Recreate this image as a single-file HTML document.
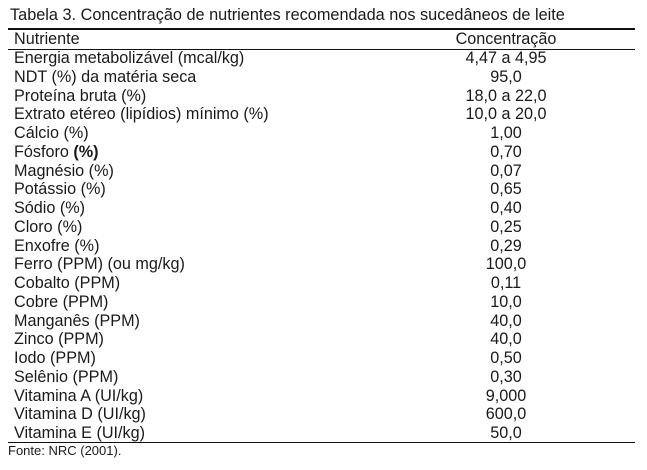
<!DOCTYPE html>
<html><head><meta charset="utf-8"><style>
body{margin:0;background:#fff;width:647px;height:470px;overflow:hidden;font-family:"Liberation Sans",Arial,sans-serif;color:#1a1a1a;position:relative}
.t{position:absolute;left:10px;top:6px;font-size:16.3px;white-space:nowrap}
.l{position:absolute;left:8px;width:627px;height:1.5px;background:#111}
.r{position:absolute;left:14px;width:621px;height:19px;font-size:16.2px;line-height:19px;white-space:nowrap}
.r span{position:absolute;left:412px;width:160px;text-align:center}
.f{position:absolute;left:8px;top:443px;font-size:13px}
</style></head><body>
<div class="t">Tabela 3. Concentração de nutrientes recomendada nos sucedâneos de leite</div>
<div class="l" style="top:28px"></div>
<div class="r" style="top:30px">Nutriente<span>Concentração</span></div>
<div class="l" style="top:48.5px"></div>
<div class="r" style="top:49px">Energia metabolizável (mcal/kg)<span>4,47 a 4,95</span></div>
<div class="r" style="top:67.75px">NDT (%) da matéria seca<span>95,0</span></div>
<div class="r" style="top:86.5px">Proteína bruta (%)<span>18,0 a 22,0</span></div>
<div class="r" style="top:105.25px">Extrato etéreo (lipídios) mínimo (%)<span>10,0 a 20,0</span></div>
<div class="r" style="top:124px">Cálcio (%)<span>1,00</span></div>
<div class="r" style="top:142.75px">Fósforo <b>(%)</b><span>0,70</span></div>
<div class="r" style="top:161.5px">Magnésio (%)<span>0,07</span></div>
<div class="r" style="top:180.25px">Potássio (%)<span>0,65</span></div>
<div class="r" style="top:199px">Sódio (%)<span>0,40</span></div>
<div class="r" style="top:217.75px">Cloro (%)<span>0,25</span></div>
<div class="r" style="top:236.5px">Enxofre (%)<span>0,29</span></div>
<div class="r" style="top:255.25px">Ferro (PPM) (ou mg/kg)<span>100,0</span></div>
<div class="r" style="top:274px">Cobalto (PPM)<span>0,11</span></div>
<div class="r" style="top:292.75px">Cobre (PPM)<span>10,0</span></div>
<div class="r" style="top:311.5px">Manganês (PPM)<span>40,0</span></div>
<div class="r" style="top:330.25px">Zinco (PPM)<span>40,0</span></div>
<div class="r" style="top:349px">Iodo (PPM)<span>0,50</span></div>
<div class="r" style="top:367.75px">Selênio (PPM)<span>0,30</span></div>
<div class="r" style="top:386.5px">Vitamina A (UI/kg)<span>9,000</span></div>
<div class="r" style="top:405.25px">Vitamina D (UI/kg)<span>600,0</span></div>
<div class="r" style="top:424px">Vitamina E (UI/kg)<span>50,0</span></div>
<div class="l" style="top:441.5px"></div>
<div class="f">Fonte: NRC (2001).</div>
</body></html>
